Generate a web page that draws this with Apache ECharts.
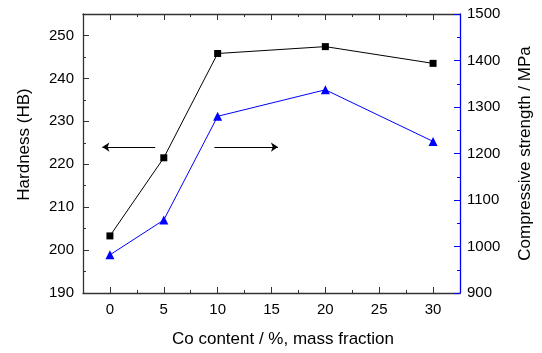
<!DOCTYPE html>
<html>
<head>
<meta charset="utf-8">
<script src="https://cdn.jsdelivr.net/npm/echarts@6/dist/echarts.min.js"></script>
<style>html,body{margin:0;padding:0;background:#fff;}#c{width:542px;height:353px;}</style>
</head>
<body>
<div id="c"></div>
<script>
// ---- data ----
const coContent = [0, 5, 10, 20, 30];
const hardness = [203.3, 221.5, 245.8, 247.4, 243.5];
const strength = [982, 1057, 1280, 1337, 1226];
const xTicks = [0, 5, 10, 15, 20, 25, 30];
const xMinorTicks = [2.5, 7.5, 12.5, 17.5, 22.5, 27.5];
const leftTicks = [190, 200, 210, 220, 230, 240, 250];
const leftMinorTicks = [195, 205, 215, 225, 235, 245];
const rightTicks = [900, 1000, 1100, 1200, 1300, 1400, 1500];
const rightMinorTicks = [950, 1050, 1150, 1250, 1350, 1450];
const arrowY = 224;
const leftArrow = [4.2, -0.7];
const rightArrow = [9.7, 15.6];

const FONT = 'Liberation Sans, Arial, sans-serif';
const AX = '#333';
const BLUE = '#0000ff';

function minorX(pos) {
  return {type:'value', position:pos, min:-2.5, max:32.5,
    axisLine:{show:false, onZero:false}, splitLine:{show:false}, axisLabel:{show:false},
    axisTick:{show:true, inside:true, length:3, customValues:xMinorTicks, lineStyle:{color:AX, width:1}}};
}
function minorY(pos, min, max, vals, color) {
  return {type:'value', position:pos, min:min, max:max,
    axisLine:{show:false, onZero:false}, splitLine:{show:false}, axisLabel:{show:false},
    axisTick:{show:true, inside:true, length:3, customValues:vals, lineStyle:{color:color, width:1}}};
}

const chart = echarts.init(document.getElementById('c'));
chart.setOption({
  animation:false,
  backgroundColor:'#fff',
  textStyle:{fontFamily:FONT},
  grid:{left:83, right:78, top:14, bottom:59, containLabel:false},
  xAxis:[
    {type:'value', position:'bottom', min:-2.5, max:32.5,
      axisLine:{show:true, onZero:false, lineStyle:{color:AX, width:1.3}},
      axisTick:{show:true, inside:true, length:6, customValues:xTicks, lineStyle:{color:AX, width:1}},
      axisLabel:{customValues:xTicks, fontSize:15, color:'#000', margin:9, fontFamily:FONT},
      splitLine:{show:false},
      name:'Co content / %, mass fraction', nameLocation:'middle', nameGap:38,
      nameTextStyle:{fontSize:17, color:'#000', fontFamily:FONT, padding:[0,0,0,23]}},
    minorX('bottom'),
    {type:'value', position:'top', min:-2.5, max:32.5,
      axisLine:{show:true, onZero:false, lineStyle:{color:AX, width:1.3}},
      axisTick:{show:true, inside:true, length:6, customValues:xTicks, lineStyle:{color:AX, width:1}},
      axisLabel:{show:false}, splitLine:{show:false}},
    minorX('top')
  ],
  yAxis:[
    {type:'value', position:'left', min:190, max:255,
      axisLine:{show:true, onZero:false, lineStyle:{color:AX, width:1.3}},
      axisTick:{show:true, inside:true, length:6, customValues:leftTicks, lineStyle:{color:AX, width:1}},
      axisLabel:{customValues:leftTicks, fontSize:15, color:'#000', margin:9, fontFamily:FONT},
      splitLine:{show:false},
      name:'Hardness (HB)', nameLocation:'middle', nameGap:50,
      nameTextStyle:{fontSize:17, color:'#000', fontFamily:FONT, padding:[0,0,0,18]}},
    {type:'value', position:'right', min:900, max:1500,
      axisLine:{show:true, onZero:false, lineStyle:{color:BLUE, width:1.3}},
      axisTick:{show:true, inside:true, length:6, customValues:rightTicks, lineStyle:{color:BLUE, width:1}},
      axisLabel:{customValues:rightTicks, fontSize:15, color:'#000', margin:7, fontFamily:FONT,
        formatter:function(v){return String(v);}},
      splitLine:{show:false},
      name:'Compressive strength / MPa', nameLocation:'middle', nameGap:57,
      nameTextStyle:{fontSize:17, color:'#000', fontFamily:FONT}},
    minorY('left', 190, 255, leftMinorTicks, AX),
    minorY('right', 900, 1500, rightMinorTicks, BLUE)
  ],
  series:[
    {type:'line', name:'Hardness', xAxisIndex:0, yAxisIndex:0,
      data:coContent.map((x,i)=>[x, hardness[i]]),
      symbol:'rect', symbolSize:7, showSymbol:true,
      itemStyle:{color:'#000'}, lineStyle:{color:'#000', width:1},
      emphasis:{disabled:true}, silent:true, z:3,
      markLine:{silent:true, animation:false, symbol:['none','arrow'], symbolSize:7,
        label:{show:false}, emphasis:{disabled:true},
        lineStyle:{color:'#000', width:1, type:'solid'},
        data:[
          [{coord:[leftArrow[0], arrowY]}, {coord:[leftArrow[1], arrowY]}],
          [{coord:[rightArrow[0], arrowY]}, {coord:[rightArrow[1], arrowY]}]
        ]}},
    {type:'line', name:'Compressive strength', xAxisIndex:0, yAxisIndex:1,
      data:coContent.map((x,i)=>[x, strength[i]]),
      symbol:'triangle', symbolSize:9, showSymbol:true,
      itemStyle:{color:BLUE}, lineStyle:{color:BLUE, width:1},
      emphasis:{disabled:true}, silent:true, z:4}
  ]
});
</script>
</body>
</html>
